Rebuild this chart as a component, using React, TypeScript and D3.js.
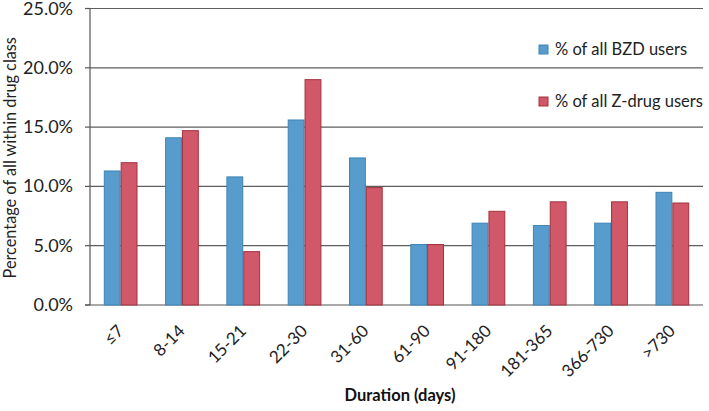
import React from "react";
import * as d3 from "d3";

const categories = ["≤7", "8-14", "15-21", "22-30", "31-60", "61-90", "91-180", "181-365", "366-730", ">730"];
const bzdValues = [11.3, 14.1, 10.8, 15.6, 12.4, 5.1, 6.9, 6.7, 6.9, 9.5];
const zdrugValues = [12.0, 14.7, 4.5, 19.0, 9.9, 5.1, 7.9, 8.7, 8.7, 8.6];
const yTicks = [0, 5, 10, 15, 20, 25];
const seriesNames = ["% of all BZD users", "% of all Z-drug users"];

const W = 709;
const H = 411;
const left = 90;
const right = 703;
const top = 8.5;
const bottom = 305;
const FONT = "Lato, 'Open Sans', sans-serif";

const fills = ["#589ccd", "#d05868"];
const strokes = ["#3d85b6", "#a3323f"];

export default function App() {
  const x0 = d3.scaleBand<string>().domain(categories).range([left, right]).paddingInner(0.45).paddingOuter(0.225);
  const x1 = d3.scaleBand<number>().domain([0, 1]).range([0, x0.bandwidth()]);
  const y = d3.scaleLinear().domain([0, 25]).range([bottom, top]);
  const series = [bzdValues, zdrugValues];

  return (
    <svg width={W} height={H} style={{ position: "absolute", left: 0, top: 0, background: "#fff" }} fontFamily={FONT}>
      {/* gridlines */}
      {yTicks.map((t) => (
        <line key={"g" + t} x1={t === 0 ? left - 5 : left} x2={right} y1={y(t)} y2={y(t)} stroke={t === 0 ? "#555" : "#5e5e5e"} strokeWidth={1.2} />
      ))}
      {/* tick marks */}
      {yTicks.map((t) => (
        <line key={"t" + t} x1={left - 5} x2={left} y1={y(t)} y2={y(t)} stroke="#555" strokeWidth={1.2} />
      ))}
      {/* bars */}
      {categories.map((c, i) => (
        <g key={c} transform={`translate(${x0(c)},0)`}>
          {series.map((s, k) => (
            <rect
              key={k}
              x={x1(k)! + 0.5}
              y={y(s[i])}
              width={x1.bandwidth() - 1}
              height={y(0) - y(s[i])}
              fill={fills[k]}
              stroke={strokes[k]}
              strokeWidth={1}
            />
          ))}
        </g>
      ))}
      {/* y axis line */}
      <line x1={left} x2={left} y1={top} y2={bottom} stroke="#555" strokeWidth={1.2} />
      {/* y tick labels */}
      {yTicks.map((t) => (
        <text key={"l" + t} x={73} y={y(t) + 6} fontSize={18} textAnchor="end" fill="#222">
          {t.toFixed(1) + "%"}
        </text>
      ))}
      {/* x labels */}
      {categories.map((c) => {
        const cx = x0(c)! + x0.bandwidth() / 2 + 4;
        const cy = 332;
        return (
          <text key={"x" + c} x={cx} y={cy} textAnchor="end" fontSize={17} fill="#222" transform={`rotate(-45 ${cx} ${cy})`}>
            {c}
          </text>
        );
      })}
      {/* axis titles */}
      <text x={400} y={401} textAnchor="middle" fontSize={16.5} fontWeight="bold" fill="#111">
        Duration (days)
      </text>
      <text transform={`translate(16,${(top + bottom) / 2 + 1}) rotate(-90)`} textAnchor="middle" fontSize={16.3} fill="#222">
        Percentage of all within drug class
      </text>
      {/* legend */}
      {seriesNames.map((n, k) => (
        <g key={n} transform={`translate(539,${k === 0 ? 45 : 97})`}>
          <rect x={0} y={0} width={9} height={9} fill={fills[k]} stroke={strokes[k]} strokeWidth={1} />
          <text x={16} y={10} fontSize={16.5} fill="#222">
            {n}
          </text>
        </g>
      ))}
    </svg>
  );
}
